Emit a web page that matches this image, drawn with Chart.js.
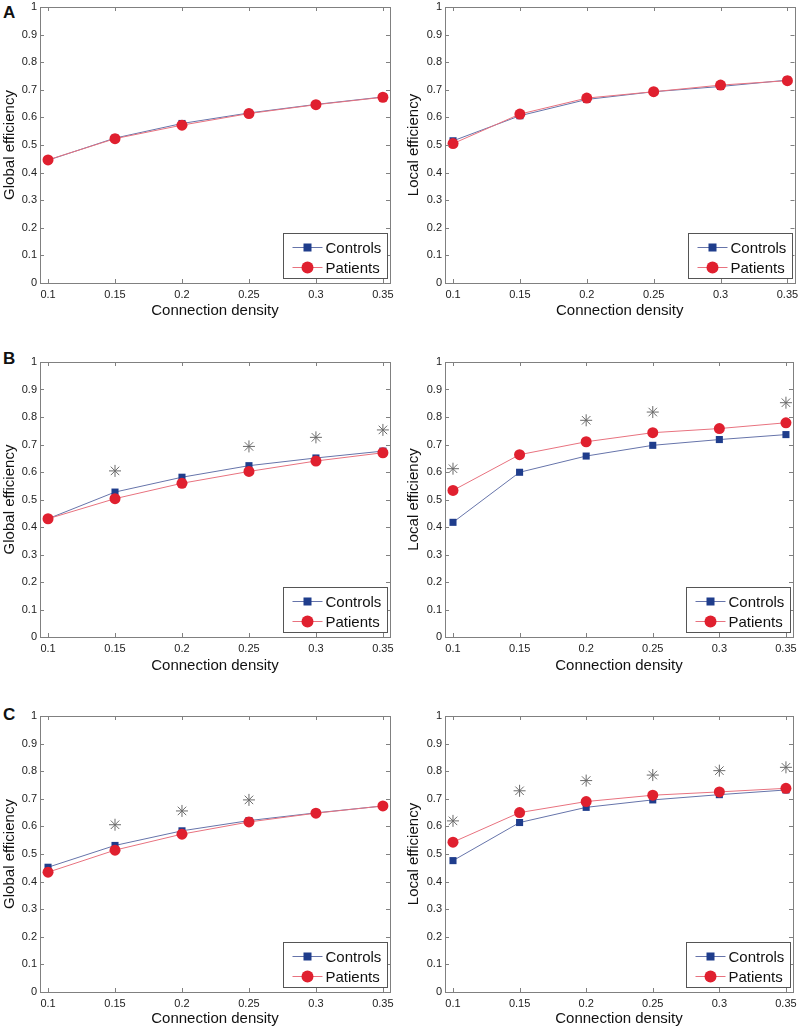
<!DOCTYPE html>
<html>
<head>
<meta charset="utf-8">
<script src="https://cdn.jsdelivr.net/npm/chart.js@4.4.0/dist/chart.umd.min.js"></script>
<style>
  body { margin: 0; background: #fff; }
  #wrap { position: relative; width: 800px; height: 1028px; font-family: Arial, "Liberation Sans", sans-serif; }
  .panel { position: absolute; }
  .letter { position: absolute; font: bold 17px Arial, "Liberation Sans", sans-serif; color: #111; }
</style>
</head>
<body>
<div id="wrap">
  <div class="letter" style="left:3px;top:3px;">A</div>
  <div class="letter" style="left:3px;top:349px;">B</div>
  <div class="letter" style="left:3px;top:705px;">C</div>
</div>
<script>
const density = [0.1, 0.15, 0.2, 0.25, 0.3, 0.35];
const yTicks = [0, 0.1, 0.2, 0.3, 0.4, 0.5, 0.6, 0.7, 0.8, 0.9, 1];

// row A
const globalA_controls = [0.445, 0.525, 0.578, 0.616, 0.647, 0.674];
const globalA_patients = [0.446, 0.523, 0.572, 0.614, 0.646, 0.673];
const localA_controls = [0.515, 0.606, 0.665, 0.693, 0.712, 0.735];
const localA_patients = [0.505, 0.612, 0.670, 0.693, 0.717, 0.733];

// row B
const globalB_controls = [0.430, 0.527, 0.581, 0.623, 0.651, 0.676];
const globalB_patients = [0.430, 0.503, 0.559, 0.602, 0.640, 0.670];
const globalB_stars = [null, 0.604, null, 0.693, 0.726, 0.753];
const localB_controls = [0.417, 0.599, 0.658, 0.697, 0.718, 0.736];
const localB_patients = [0.533, 0.663, 0.710, 0.743, 0.758, 0.779];
const localB_stars = [0.612, null, 0.788, 0.818, null, 0.852];

// row C
const globalC_controls = [0.452, 0.531, 0.584, 0.621, 0.649, 0.674];
const globalC_patients = [0.434, 0.514, 0.572, 0.616, 0.648, 0.674];
const globalC_stars = [null, 0.606, 0.656, 0.696, null, null];
const localC_controls = [0.476, 0.614, 0.669, 0.696, 0.715, 0.732];
const localC_patients = [0.543, 0.650, 0.690, 0.713, 0.725, 0.738];
const localC_stars = [0.620, 0.729, 0.766, 0.786, 0.802, 0.814];

const frameColor = '#808080';
const FONT = 'Arial, "Liberation Sans", sans-serif';

function pts(arr) {
    return density.map((d, i) => ({ x: d, y: arr[i] })).filter(p => p.y !== null);
}

// MATLAB-like box with inward ticks, plus a legend inside the plot
const boxPlugin = {
    id: 'box',
    afterDraw(chart) {
        const ctx = chart.ctx;
        const a = chart.chartArea;
        const xs = chart.scales.x, ys = chart.scales.y;
        ctx.save();
        ctx.strokeStyle = frameColor;
        ctx.lineWidth = 1;
        ctx.strokeRect(Math.round(a.left) + 0.5, Math.round(a.top) + 0.5, Math.round(a.right - a.left), Math.round(a.bottom - a.top));
        ctx.beginPath();
        density.forEach(v => {
            const px = Math.round(xs.getPixelForValue(v)) + 0.5;
            ctx.moveTo(px, a.bottom); ctx.lineTo(px, a.bottom - 4);
            ctx.moveTo(px, a.top); ctx.lineTo(px, a.top + 4);
        });
        yTicks.forEach(v => {
            const py = Math.round(ys.getPixelForValue(v)) + 0.5;
            ctx.moveTo(a.left, py); ctx.lineTo(a.left + 4, py);
            ctx.moveTo(a.right, py); ctx.lineTo(a.right - 4, py);
        });
        ctx.stroke();

        // legend
        const w = 104, h = 45;
        const lx = Math.round(a.right - 3 - w) + 0.5;
        const ly = Math.round(a.bottom - 5 - h) + 0.5;
        ctx.fillStyle = '#fff';
        ctx.fillRect(lx, ly, w, h);
        ctx.strokeStyle = '#555';
        ctx.strokeRect(lx, ly, w, h);
        const items = chart.data.datasets.filter(d => d.label);
        items.forEach((d, i) => {
            const cy = ly + 14 + i * 20;
            ctx.strokeStyle = d.borderColor;
            ctx.lineWidth = 1;
            ctx.beginPath();
            ctx.moveTo(lx + 9, cy); ctx.lineTo(lx + 39, cy);
            ctx.stroke();
            ctx.fillStyle = d.pointBackgroundColor;
            if (d.pointStyle === 'rect') {
                ctx.fillRect(lx + 24 - 4, cy - 4, 8, 8);
            } else {
                ctx.beginPath();
                ctx.arc(lx + 24, cy, 6, 0, Math.PI * 2);
                ctx.fill();
            }
            ctx.fillStyle = '#111';
            ctx.font = '15px ' + FONT;
            ctx.textBaseline = 'middle';
            ctx.fillText(d.label, lx + 42, cy + 1);
        });
        ctx.restore();
    }
};

function makePanel(left, top, height, plotH, yLeft, titlePad, yTitle, controls, patients, stars) {
    const width = 400;
    const canvas = document.createElement('canvas');
    canvas.className = 'panel';
    canvas.style.left = left + 'px';
    canvas.style.top = top + 'px';
    canvas.style.width = width + 'px';
    canvas.style.height = height + 'px';
    canvas.width = width;
    canvas.height = height;
    document.getElementById('wrap').appendChild(canvas);

    const datasets = [
        {
            label: 'Controls',
            data: pts(controls),
            borderColor: '#6674aa',
            borderWidth: 1,
            pointStyle: 'rect',
            pointRadius: 5,
            pointBackgroundColor: '#1f3d8c',
            pointBorderColor: '#1f3d8c',
            pointBorderWidth: 0,
            order: 2
        },
        {
            label: 'Patients',
            data: pts(patients),
            borderColor: '#e8727f',
            borderWidth: 1,
            pointStyle: 'circle',
            pointRadius: 5.5,
            pointBackgroundColor: '#e0202f',
            pointBorderColor: '#e0202f',
            pointBorderWidth: 0,
            order: 1
        }
    ];
    if (stars) {
        datasets.push({
            label: '',
            data: pts(stars),
            showLine: false,
            pointStyle: 'star',
            pointRadius: 6,
            pointBorderColor: '#6a6a6a',
            pointBackgroundColor: 'rgba(0,0,0,0)',
            pointBorderWidth: 1,
            borderColor: '#6a6a6a',
            order: 0
        });
    }

    new Chart(canvas, {
        type: 'scatter',
        data: { datasets: datasets },
        options: {
            responsive: false,
            animation: false,
            showLine: true,
            layout: { padding: { top: 7, right: width - 390 - (yLeft - 40), bottom: 0, left: 0 } },
            plugins: { legend: { display: false }, tooltip: { enabled: false } },
            scales: {
                x: {
                    type: 'linear',
                    min: 0.094,
                    max: 0.3553,
                    afterBuildTicks: s => { s.ticks = density.map(v => ({ value: v })); },
                    afterFit: s => { s.height = height - 7 - plotH; s.paddingLeft = 0; s.paddingRight = 0; },
                    grid: { display: false, drawTicks: false, tickLength: 0 },
                    border: { display: false },
                    ticks: {
                        color: '#222',
                        font: { size: 11, family: FONT },
                        padding: 5,
                        maxRotation: 0,
                        autoSkip: false,
                        callback: v => String(v)
                    },
                    title: {
                        display: true,
                        text: 'Connection density',
                        color: '#111',
                        font: { size: 15, family: FONT },
                        padding: { top: 0, bottom: 0 }
                    }
                },
                y: {
                    type: 'linear',
                    min: 0,
                    max: 1,
                    afterBuildTicks: s => { s.ticks = yTicks.map(v => ({ value: v })); },
                    afterFit: s => { s.width = yLeft; s.paddingTop = 0; s.paddingBottom = 0; },
                    grid: { display: false, drawTicks: false, tickLength: 0 },
                    border: { display: false },
                    ticks: {
                        color: '#222',
                        font: { size: 11, family: FONT },
                        padding: 3,
                        callback: v => String(Math.round(v * 10) / 10)
                    },
                    title: {
                        display: true,
                        text: yTitle,
                        color: '#111',
                        font: { size: 15, family: FONT },
                        padding: { top: titlePad, bottom: 0 }
                    }
                }
            }
        },
        plugins: [boxPlugin]
    });
}

makePanel(0, 0, 320, 276, 40, 1, 'Global efficiency', globalA_controls, globalA_patients, null);
makePanel(400, 0, 320, 276, 45, 5, 'Local efficiency', localA_controls, localA_patients, null);
makePanel(0, 355, 320, 275, 40, 1, 'Global efficiency', globalB_controls, globalB_patients, globalB_stars);
makePanel(400, 355, 320, 275, 45, 5, 'Local efficiency', localB_controls, localB_patients, localB_stars);
makePanel(0, 709, 319, 276, 40, 1, 'Global efficiency', globalC_controls, globalC_patients, globalC_stars);
makePanel(400, 709, 319, 276, 45, 5, 'Local efficiency', localC_controls, localC_patients, localC_stars);
</script>
</body>
</html>
